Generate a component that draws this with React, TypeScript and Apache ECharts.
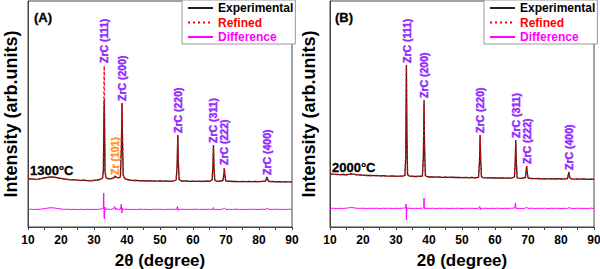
import React, { useEffect, useRef } from "react";
import * as echarts from "echarts";

// ---- Panel A (1300°C) ----
const expA: [number, number][] = [
  [10,48.5],[11,48],[12,47.6],[13,47.8],[14,48.3],[15,49],[16,49.6],[17,50.2],[18,49.8],[19,49.2],[20,48.6],[21,48],[22,47.6],[23,47.2],[24,47.3],[25,46.8],[26,46.6],[27,46.9],[28,46.3],[29,46.2],[30,46.6],[31,47],[32,47.8],[32.6,49],[32.85,56],[33.0,110],[33.1,127],[33.2,100],[33.35,55],[33.6,49.5],[34,48.5],[35,48.2],[36,49.2],[36.4,51],[36.7,49.8],[37.4,49],[38.0,50],[38.3,80],[38.5,124],[38.65,85],[38.85,52],[39.3,48.6],[40,47.5],[41,46.8],[42,46.5],[43,46.6],[44,46.2],[45,46.4],[46,46],[47,46.3],[48,46],[49,45.8],[50,46.1],[51,45.8],[52,46],[53,45.7],[54,46],[54.9,47],[55.2,62],[55.4,92],[55.55,65],[55.8,47.5],[56.5,46],[57,45.8],[58,46],[59,45.6],[60,45.9],[61,45.6],[62,45.8],[63,45.5],[64,45.8],[65,45.7],[65.8,47],[66.05,62],[66.2,82],[66.35,60],[66.6,47],[67,46],[68,45.7],[69.1,46.5],[69.35,53],[69.5,59],[69.65,52],[69.9,46.3],[70.5,45.6],[71,45.8],[72,45.5],[73,45.7],[74,45.4],[75,45.6],[76,45.3],[77,45.6],[78,45.4],[79,45.5],[80,45.3],[81,45.6],[82,46],[82.4,50],[82.8,46],[83.5,45.4],[84,45.5],[85,45.2],[86,45.4],[87,45.1],[88,45.3],[89,45.1],[90,45.2]
];
const refA: [number, number][] = [
  [10,48.3],[12,47.8],[14,48.2],[16,49.5],[17,50],[18,49.6],[20,48.5],[22,47.5],[24,47.1],[26,46.7],[28,46.4],[30,46.5],[31,47],[32,47.7],[32.6,49],[32.85,60],[33.0,140],[33.1,161],[33.2,120],[33.35,58],[33.6,49.5],[34,48.5],[35,48.3],[36,49],[36.4,50.8],[36.7,49.8],[37.4,49],[38.0,50.2],[38.3,82],[38.5,124],[38.65,86],[38.85,52],[39.3,48.5],[40,47.4],[42,46.6],[44,46.3],[46,46.1],[48,46],[50,45.9],[52,45.9],[54,45.9],[54.9,47],[55.2,63],[55.4,92],[55.55,66],[55.8,47.5],[56.5,46],[58,45.8],[60,45.7],[62,45.6],[64,45.6],[65.8,47],[66.05,63],[66.2,82],[66.35,61],[66.6,47],[67,46],[68,45.7],[69.1,46.4],[69.35,53],[69.5,59],[69.65,52],[69.9,46.2],[70.5,45.6],[72,45.5],[74,45.4],[76,45.4],[78,45.4],[80,45.3],[82,46],[82.4,50],[82.8,46],[83.5,45.4],[86,45.3],[88,45.2],[90,45.2]
];
const diffA: [number, number][] = [
  [10,17.6],[11,17.8],[12,17.5],[13,17.7],[14,17.9],[15,18.4],[16,18.9],[17,19.3],[18,19],[19,18.5],[20,18],[21,17.6],[22,17.8],[23,17.5],[24,17.7],[25,17.4],[26,17.7],[27,17.5],[28,17.8],[29,17.5],[30,17.7],[31,17.6],[32,17.9],[32.8,18.5],[32.95,34],[33.05,10],[33.15,8],[33.3,20],[33.5,17.6],[34,17.9],[35,17.6],[35.8,18],[36.3,20.5],[36.5,17],[36.7,19],[37,17.7],[38,17.8],[38.3,23],[38.45,14],[38.6,19],[38.9,17.6],[40,17.8],[41,17.5],[42,17.7],[43,17.5],[44,17.8],[45,17.6],[46,17.7],[47,17.4],[48,17.7],[49,17.6],[50,17.8],[51,17.5],[52,17.7],[53,17.6],[54,17.8],[55,17.6],[55.3,20.5],[55.5,16.5],[55.7,18],[56,17.6],[57,17.8],[58,17.5],[59,17.7],[60,17.6],[61,17.8],[62,17.5],[63,17.7],[64,17.6],[65,17.8],[66,17.5],[66.2,19.5],[66.4,17.2],[67,17.7],[68,17.5],[69,17.8],[69.5,18.8],[70,17.6],[71,17.7],[72,17.5],[73,17.8],[74,17.6],[75,17.7],[76,17.5],[77,17.8],[78,17.6],[79,17.7],[80,17.5],[81,17.8],[82,17.6],[82.4,18.6],[83,17.7],[84,17.5],[85,17.8],[86,17.6],[87,17.7],[88,17.5],[89,17.8],[90,17.6]
];
const labelsA: [number, number, string][] = [
  [33.1,164,"ZrC (111)"],[38.6,126,"ZrC (200)"],[55.4,94,"ZrC (220)"],[66.2,84,"ZrC (311)"],[69.5,62,"ZrC (222)"],[82.4,52,"ZrC (400)"],[36.4,52,"Zr (101)"]
];

// ---- Panel B (2000°C) ----
const expB: [number, number][] = [
  [10,53.2],[11,52.8],[12,52.6],[13,52.3],[14,52.5],[15,52.2],[16,52.8],[16.5,53.4],[17,52.9],[18,52.3],[19,52],[20,51.8],[21,51.5],[22,51.7],[23,51.3],[24,51.5],[25,51.1],[26,51.4],[27,51],[28,50.8],[29,51],[30,50.7],[31,50.9],[32,50.8],[32.7,51.5],[32.95,70],[33.15,162],[33.3,95],[33.5,52.5],[34,51],[35,50.7],[36,50.5],[37,50.6],[38,51],[38.3,70],[38.5,127],[38.65,80],[38.9,51.5],[39.5,50.3],[40,50],[41,50.2],[42,49.9],[43,50.1],[44,49.7],[45,49.9],[46,49.6],[47,49.8],[48,49.5],[49,49.7],[50,49.4],[51,49.6],[52,49.3],[53,49.5],[54,49.2],[55,49.6],[55.3,65],[55.5,92],[55.65,68],[55.9,50],[56.5,49.3],[57,49.1],[58,49.3],[59,49],[60,49.2],[61,48.9],[62,49.1],[63,48.8],[64,49],[65,48.8],[65.9,50],[66.15,68],[66.3,87],[66.45,66],[66.7,49.5],[67,48.9],[68,48.6],[69.2,49.5],[69.45,56],[69.6,61],[69.75,55],[70,49],[71,48.5],[72,48.3],[73,48.5],[74,48.2],[75,48.4],[76,48.1],[77,48.3],[78,48],[79,48.3],[80,48],[81,48.2],[82,48.5],[82.4,55],[82.7,49],[83.2,48.1],[84,47.9],[85,48.1],[86,47.8],[87,48],[88,47.7],[89,47.9],[90,47.6]
];
const refB: [number, number][] = [
  [10,53],[12,52.5],[14,52.3],[16,52.6],[16.5,53],[17,52.8],[18,52.3],[20,51.8],[22,51.5],[24,51.3],[26,51.1],[28,50.9],[30,50.8],[32,50.8],[32.7,51.5],[32.95,72],[33.15,162],[33.3,96],[33.5,52.5],[34,51],[36,50.6],[38,51],[38.3,72],[38.5,124],[38.65,80],[38.9,51.5],[39.5,50.3],[40,50],[42,49.9],[44,49.8],[46,49.6],[48,49.5],[50,49.4],[52,49.3],[54,49.3],[55,49.6],[55.3,66],[55.5,92],[55.65,68],[55.9,50],[56.5,49.3],[58,49.2],[60,49.1],[62,49],[64,48.9],[65,48.8],[65.9,50],[66.15,66],[66.3,84],[66.45,65],[66.7,49.5],[67,48.9],[68,48.6],[69.2,49.5],[69.45,56],[69.6,61],[69.75,55],[70,49],[72,48.4],[74,48.3],[76,48.2],[78,48.1],[80,48.1],[82,48.5],[82.4,54],[82.7,49],[83.2,48.1],[86,47.9],[88,47.8],[90,47.7]
];
const diffB: [number, number][] = [
  [10,18.6],[11,18.8],[12,18.5],[13,18.7],[14,18.6],[15,18.9],[16,19.3],[16.5,19.8],[17,19.2],[18,18.8],[19,18.6],[20,18.8],[21,18.5],[22,18.7],[23,18.6],[24,18.8],[25,18.5],[26,18.7],[27,18.6],[28,18.8],[29,18.5],[30,18.7],[31,18.6],[32,18.8],[32.9,19],[33.05,23],[33.15,7],[33.3,19.5],[33.6,18.6],[34,18.8],[35,18.5],[36,18.7],[37,18.6],[38,18.8],[38.4,20],[38.5,29],[38.6,18],[38.8,18.7],[40,18.6],[41,18.8],[42,18.5],[43,18.7],[44,18.6],[45,18.8],[46,18.5],[47,18.7],[48,18.6],[49,18.8],[50,18.5],[51,18.7],[52,18.6],[53,18.8],[54,18.5],[55,18.7],[55.4,20.5],[55.55,17],[55.7,18.7],[56,18.6],[57,18.8],[58,18.5],[59,18.7],[60,18.6],[61,18.8],[62,18.5],[63,18.7],[64,18.6],[65,18.8],[66,19],[66.2,24],[66.4,18.4],[67,18.7],[68,18.5],[69,18.7],[69.6,19.6],[70,18.6],[71,18.8],[72,18.5],[73,18.7],[74,18.6],[75,18.8],[76,18.5],[77,18.7],[78,18.6],[79,18.8],[80,18.5],[81,18.7],[82,18.6],[82.4,19.4],[83,18.7],[84,18.5],[85,18.8],[86,18.6],[87,18.7],[88,18.5],[89,18.8],[90,18.6]
];
const labelsB: [number, number, string][] = [
  [33.2,164,"ZrC (111)"],[38.5,129,"ZrC (200)"],[55.5,94,"ZrC (220)"],[66.3,89,"ZrC (311)"],[69.6,63,"ZrC (222)"],[82.4,57,"ZrC (400)"]
];

const panelTags = ["(A)", "(B)"];
const tempTags = ["1300°C", "2000°C"];
const xTicksMin = 10, xTicksMax = 90, xTickStep = 10;

const FONT = 'Arial, "Liberation Sans", sans-serif';
const AXIS = "#444";
const VIOLET = "#8000ff";
const ORANGE = "#ff8000";

export default function App() {
  const ref = useRef<HTMLDivElement>(null);
  useEffect(() => {
    if (!ref.current) return;
    const chart = echarts.init(ref.current, undefined, { renderer: "svg" });
    const grids = [
      { left: 28, top: 1, width: 264, height: 226 },
      { left: 330, top: 1, width: 264, height: 226 },
    ];
    const panels = [
      { exp: expA, ref: refA, diff: diffA, labels: labelsA, yGap: 8 },
      { exp: expB, ref: refB, diff: diffB, labels: labelsB, yGap: 12 },
    ];
    const labelBase = {
      show: true, formatter: "{b}", position: "top", distance: 0, rotate: 90,
      align: "left", verticalAlign: "middle",
      fontSize: 10.5, fontWeight: "bold", fontFamily: FONT, textBorderWidth: 0.5,
    };
    const series: any[] = [];
    panels.forEach((p, i) => {
      series.push({
        name: "Experimental", type: "line", xAxisIndex: i, yAxisIndex: i, data: p.exp,
        symbol: "none", lineStyle: { color: "#222", width: 1.3 }, itemStyle: { color: "#222" }, z: 2,
      });
      series.push({
        name: "Refined", type: "line", xAxisIndex: i, yAxisIndex: i, data: p.ref,
        symbol: "none", lineStyle: { color: "#ff0000", width: 1.4, type: [2, 3] }, itemStyle: { color: "#ff0000" }, z: 3,
      });
      series.push({
        name: "Difference", type: "line", xAxisIndex: i, yAxisIndex: i, data: p.diff,
        symbol: "none", lineStyle: { color: "#ff00ff", width: 1 }, itemStyle: { color: "#ff00ff" }, z: 2,
      });
      series.push({
        name: "peaks" + i, type: "scatter", xAxisIndex: i, yAxisIndex: i, symbolSize: 0, z: 5,
        silent: true,
        data: p.labels.map(([x, y, t]) => {
          const c = t.startsWith("ZrC") ? VIOLET : ORANGE;
          return { value: [x, y], name: t, label: { ...labelBase, color: c, textBorderColor: c } };
        }),
        label: labelBase,
      });
    });
    const legendData = [
      { name: "Experimental", textStyle: { color: "#000" } },
      { name: "Refined", textStyle: { color: "#ff0000" } },
      { name: "Difference", textStyle: { color: "#ff00ff" } },
    ];
    const mkLegend = (left: number) => ({
      left, top: 0, orient: "vertical", data: legendData,
      itemWidth: 25, itemHeight: 12, itemGap: 2.5, padding: [2, 2, 1, 5],
      borderColor: "#999", borderWidth: 1, backgroundColor: "#fff",
      itemStyle: { opacity: 0 },
      textStyle: { fontSize: 12, fontWeight: "bold", fontFamily: FONT },
      selectedMode: false,
    });
    const tag = (text: string, x: number, y: number) => ({
      type: "text", x, y,
      style: { text, font: `bold 13px ${FONT}`, fill: "#000", stroke: "#000", lineWidth: 0.3, verticalAlign: "middle" },
    });
    const option: any = {
      animation: false,
      textStyle: { fontFamily: FONT },
      grid: grids.map((g) => ({
        ...g, show: true, borderColor: AXIS, borderWidth: 1, backgroundColor: "transparent",
        containLabel: false, outerBoundsMode: "none",
      })),
      xAxis: grids.map((_, i) => ({
        gridIndex: i, type: "value", min: xTicksMin, max: xTicksMax, interval: xTickStep,
        axisLine: { show: true, onZero: false, lineStyle: { color: AXIS, width: 1 } },
        axisTick: { show: true, length: 3, lineStyle: { color: AXIS } },
        minorTick: { show: true, splitNumber: 2, length: 3, lineStyle: { color: AXIS } },
        splitLine: { show: false },
        axisLabel: { color: "#000", fontWeight: "bold", fontSize: 12, margin: 7, fontFamily: FONT },
        name: "2θ (degree)", nameLocation: "middle", nameGap: 25,
        nameTextStyle: { fontWeight: "bold", fontSize: 17, color: "#000", fontFamily: FONT },
      })),
      yAxis: grids.map((_, i) => ({
        gridIndex: i, type: "value", min: 0, max: 226,
        axisLine: { show: true, onZero: false, lineStyle: { color: AXIS, width: 1 } },
        axisTick: { show: false }, axisLabel: { show: false }, splitLine: { show: false },
        name: "Intensity (arb.units)", nameLocation: "middle", nameGap: panels[i].yGap,
        nameTextStyle: { fontWeight: "bold", fontSize: 18, color: "#000", fontFamily: FONT },
      })),
      legend: [mkLegend(182), mkLegend(484)],
      graphic: [
        tag(panelTags[0], 34, 17),
        tag(panelTags[1], 335, 17),
        tag(tempTags[0], 30, 170),
        tag(tempTags[1], 332, 167),
      ],
      series,
    };
    chart.setOption(option);
    return () => chart.dispose();
  }, []);
  return <div ref={ref} style={{ position: "fixed", left: 0, top: 0, width: 600, height: 269, background: "#fff" }} />;
}
